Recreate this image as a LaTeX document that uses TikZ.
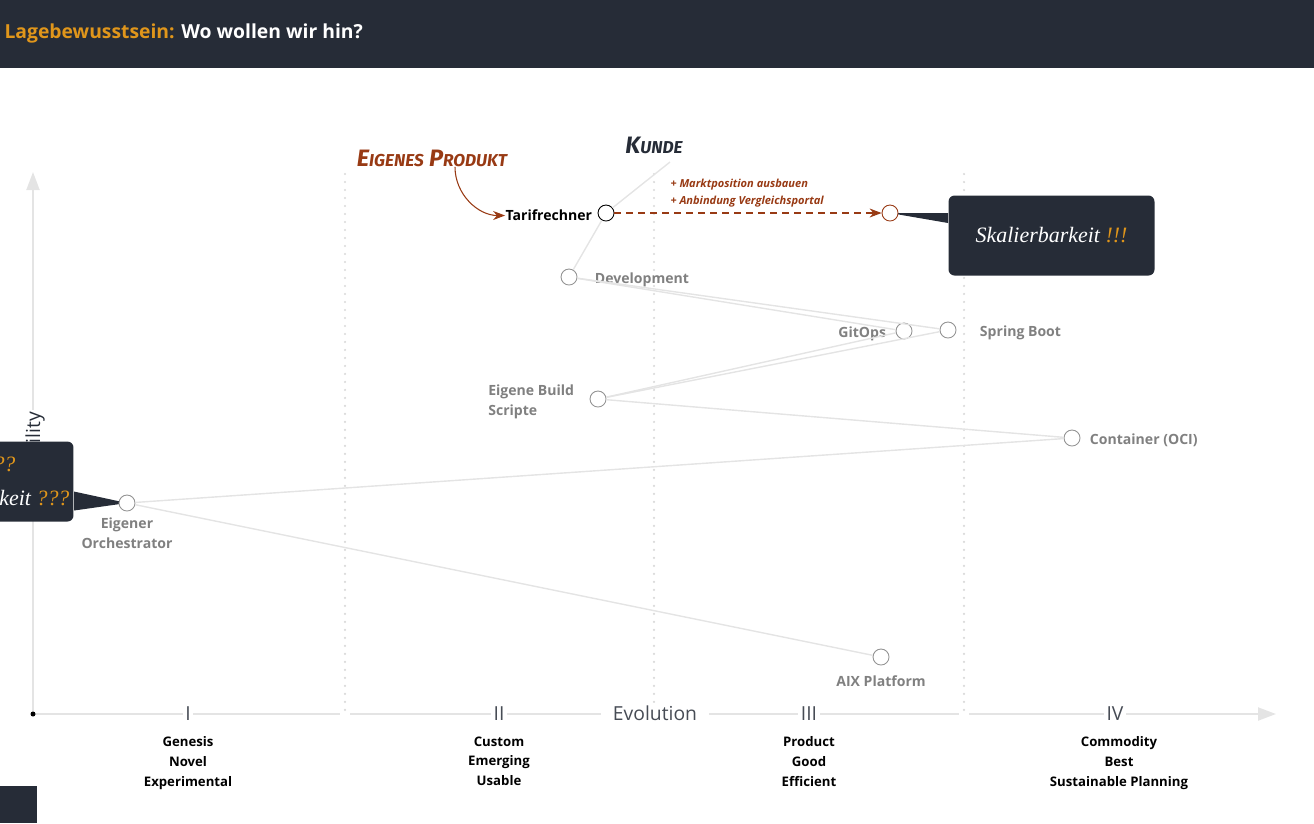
\documentclass[tikz,border=0pt]{standalone}
\usepackage{fontspec}
\setmainfont{Open Sans}
\newfontfamily\handfont{Liberation Serif}
\newfontfamily\brushfont{Fira Sans}
\usetikzlibrary{arrows, arrows.meta, positioning}

\definecolor{slate}{HTML}{262C37}
\definecolor{amber}{HTML}{E0961B}
\definecolor{rust}{HTML}{983A14}
\definecolor{wire}{HTML}{E4E4E4}
\definecolor{muted}{HTML}{808080}

\newcommand{\lowcaps}[1]{{\fontsize{9.8}{10}\selectfont #1}}

\begin{document}
\begin{tikzpicture}[
            x = 0.02cm, y = -0.02cm, % one unit per pixel, y pointing down
            > = stealth, % arrow head style
            font = \fontsize{8}{11.3}\selectfont\bfseries,
            semithick % line style
        ]

        \tikzstyle{comp}=[
            circle,
            draw = gray!85,
            fill = white,
            line width = 0.5pt,
            minimum size = 0.32cm,
            inner sep = 0pt
        ]
        \tikzstyle{lbl}=[text = muted, inner sep = 0pt, align = left, yshift = -0.05cm]
        \tikzstyle{link}=[draw = wire, line width = 0.8pt]
        \tikzstyle{stage}=[anchor = north, align = center, inner sep = 0pt,
            font = \fontsize{7.5}{11.3}\selectfont\bfseries]
        \tikzstyle{roman}=[fill = white, inner sep = 1.5pt, text = slate!85,
            font = \fontsize{11}{11}\selectfont\mdseries]
        \tikzstyle{bubble}=[fill = slate, rounded corners = 0.12cm]
        \tikzstyle{hand}=[inner sep = 0pt, font = \handfont\itshape\fontsize{12.5}{14}\selectfont]
        \tikzstyle{brush}=[inner sep = 0pt, font = \brushfont\bfseries\itshape\fontsize{13.5}{14}\selectfont]

	% frame
	\useasboundingbox (0,0) rectangle (1314,823);
	\fill[slate] (0,0) rectangle (1314,68);
	\fill[slate] (0,786) rectangle (37,823);
	\node[anchor = west, inner sep = 0pt, font = \fontsize{11}{13}\selectfont\bfseries] (title) at (4,33)
	    {\textcolor{amber}{Lagebewusstsein:} \textcolor{white}{Wo wollen wir hin?}};

	% axes
	\foreach \x in {345, 654, 964}
	    \draw[gray!30, line width = 1.4pt, line cap = round, dash pattern = on 0pt off 0.16cm] (\x,174) -- (\x,710);
	\draw[wire, line width = 1.2pt, -{Triangle[length = 0.36cm, width = 0.26cm]}] (33,714) -- (33,172);
	\draw[wire, line width = 1.2pt] (33,714) -- (340,714) (350,714) -- (959,714);
	\draw[wire, line width = 1.2pt, -{Triangle[length = 0.36cm, width = 0.26cm]}] (969,714) -- (1276,714);
	\fill[black] (33,714) circle (0.05cm);

	\node[roman] (s1) at (188,714) {I};
	\node[roman] (s2) at (499,714) {II};
	\node[roman] (s3) at (809,714) {III};
	\node[roman] (s4) at (1115,714) {IV};
	\node[roman, inner xsep = 0.24cm] (evo) at (655,713) {Evolution};
	\node[roman, text = slate, rotate = 90, anchor = east] (vis) at (35,409) {Visibility};

	\node[stage] (g1) at (188,736) {Genesis\\Novel\\Experimental};
	\node[stage] (g2) at (499,736) {Custom\\Emerging\\Usable};
	\node[stage] (g3) at (809,736) {Product\\Good\\Efficient};
	\node[stage] (g4) at (1119,736) {Commodity\\Best\\Sustainable Planning};

	% callouts
	\coordinate (tgtc) at (890,213);
	\coordinate (orcc) at (127,503);
	\node[bubble, anchor = north west, minimum width = 4.12cm, minimum height = 1.6cm] (sk) at (948,195) {};
	\fill[slate] (tgtc) -- (tgtc -| sk.west) -- ([yshift = -0.2cm]tgtc -| sk.west) -- cycle;
	\node[hand, text = white] (sktxt) at (sk.center) {Skalierbarkeit \textcolor{amber}{!!!}};
	\node[bubble, anchor = north east, minimum width = 2.68cm, minimum height = 1.6cm] (qb) at (74,441) {};
	\fill[slate] (orcc) -- ([yshift = -0.2cm]qb.east) -- ([yshift = -0.58cm]qb.east) -- cycle;
	\node[hand, text = amber, anchor = base east] (q1) at (16,471) {???};
	\node[hand, text = white, anchor = base east] (q2) at (70,505) {barkeit \textcolor{amber}{???}};

	% components
	\node[comp, draw = black] (tar) at (606,213) {};
	\node[comp, draw = rust] (tgt) at (tgtc) {};
	\node[comp] (dev) at (569,277) {};
	\node[comp] (git) at (904,331) {};
	\node[comp] (spr) at (948,330) {};
	\node[comp] (bld) at (598,399) {};
	\node[comp] (con) at (1072,438) {};
	\node[comp] (orc) at (orcc) {};
	\node[comp] (aix) at (881,657) {};
	\coordinate (kun) at (670,162);

	\node[lbl, text = black, left = 0.1cm of tar] (tarl) {Tarifrechner};
	\node[lbl, right = 0.34cm of dev] (devl) {Development};
	\node[lbl, left = 0.18cm of git] (gitl) {GitOps};
	\node[lbl, right = 0.46cm of spr] (sprl) {Spring Boot};
	\node[lbl, left = 0.3cm of bld] (bldl) {Eigene Build\\Scripte};
	\node[lbl, right = 0.18cm of con] (conl) {Container (OCI)};
	\node[lbl, align = center, below = 0.06cm of orc] (orcl) {Eigener\\Orchestrator};
	\node[lbl, below = 0.14cm of aix] (aixl) {AIX Platform};

	\node[brush, text = slate] (kundel) at (654,145) {K\lowcaps{UNDE}};
	\node[brush, text = rust] (epl) at (432,158) {E\lowcaps{IGENES} P\lowcaps{RODUKT}};
	\node[anchor = west, text = rust, align = left, inner sep = 0pt,
	    font = \fontsize{6.3}{9.6}\selectfont\bfseries\itshape] (note) at (670,193)
	    {+ Marktposition ausbauen\\+ Anbindung Vergleichsportal};

	% value chain
	\path[link] (tar) edge (kun);
	\path[link] (tar) edge (dev);
	\path[link] (dev) edge (git);
	\path[link] (dev) edge (spr);
	\path[link] (bld) edge (git);
	\path[link] (bld) edge (spr);
	\path[link] (bld) edge (con);
	\path[link] (con) edge (orc);
	\path[link] (orc) edge (aix);

	% movement
	\draw[rust, -{Stealth[length = 0.24cm, width = 0.18cm]}] ([xshift = 0.46cm]epl.south) to[out = -90, in = 180] (tarl.west);
	\draw[rust, dash pattern = on 0.14cm off 0.1cm, -{Stealth[length = 0.24cm, width = 0.18cm]}] (tar) -- (tgt);

    \end{tikzpicture}
\end{document}
